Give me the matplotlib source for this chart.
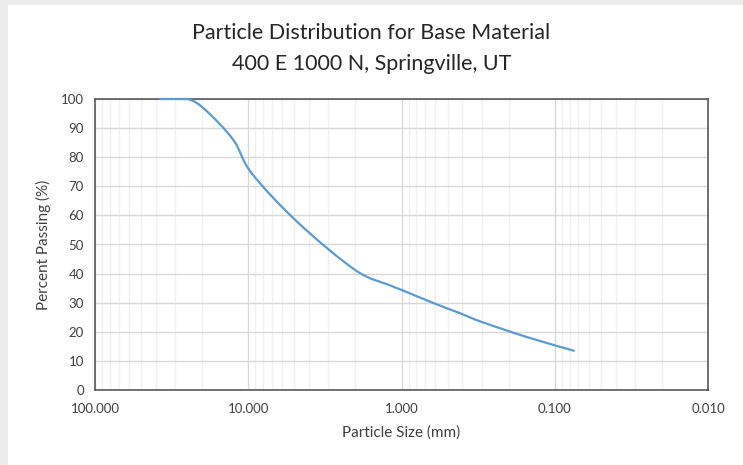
"""Grain size distribution curve for the base material sample."""

import matplotlib
import numpy as np

matplotlib.use("Agg")
import matplotlib.pyplot as plt  # noqa: E402
from matplotlib.patches import PathPatch, Rectangle  # noqa: E402
from matplotlib.path import Path  # noqa: E402
from matplotlib.ticker import FixedLocator, FormatStrFormatter, LogLocator  # noqa: E402

# sieve openings (mm) and percent passing
SIEVE_MM = [37.5, 25.0, 19.0, 12.5, 9.5, 4.75, 2.0, 1.18, 1.0, 0.6, 0.425, 0.3, 0.15, 0.075]
PASSING = [100.0, 100.0, 96.2, 85.9, 74.5, 57.6, 41.2, 35.9, 34.4, 29.6, 26.6, 23.4, 18.1, 13.5]
Y_TICKS = list(range(0, 101, 10))

FONT = ["Lato", "DejaVu Sans"]
TEXT_COLOR = "#404040"
LINE_COLOR = "#5b9bd5"


def smooth_path(xs, ys):
    """Excel-style smoothed line: cubic bezier segments built in log-x space."""
    lx = np.log10(xs)
    ys = np.asarray(ys, dtype=float)
    pts = np.column_stack([lx, ys])
    n = len(pts)
    verts = [pts[0]]
    codes = [Path.MOVETO]
    for i in range(n - 1):
        p0 = pts[max(i - 1, 0)]
        p1 = pts[i]
        p2 = pts[i + 1]
        p3 = pts[min(i + 2, n - 1)]
        c1 = p1 + (p2 - p0) / 6
        c2 = p2 - (p3 - p1) / 6
        verts += [c1, c2, p2]
        codes += [Path.CURVE4] * 3
    verts = np.array(verts)
    # keep the curve from bulging over 100 %
    verts[:, 1] = np.minimum(verts[:, 1], ys.max())
    verts[:, 0] = 10 ** verts[:, 0]
    return Path(verts, codes)


def main() -> None:
    plt.rcParams["font.family"] = FONT
    fig = plt.figure(figsize=(7.43, 4.65), dpi=100, facecolor="#ececec")
    fig.patches.append(
        Rectangle((8 / 743, 0), 1, 1 - 5 / 465, transform=fig.transFigure,
                  facecolor="white", edgecolor="none", zorder=-10)
    )
    ax = fig.add_axes([95 / 743, 1 - 390 / 465, (708 - 95) / 743, (390 - 99) / 465])

    ax.set_xscale("log")
    ax.set_xlim(100, 0.01)
    ax.set_ylim(0, 100)

    curve = PathPatch(smooth_path(SIEVE_MM, PASSING), facecolor="none", edgecolor=LINE_COLOR,
                      linewidth=1.6, capstyle="round", zorder=3, clip_on=False)
    ax.add_patch(curve)

    ax.xaxis.set_major_locator(LogLocator(base=10))
    ax.xaxis.set_minor_locator(LogLocator(base=10, subs=range(2, 10)))
    ax.xaxis.set_major_formatter(FormatStrFormatter("%.3f"))
    ax.xaxis.set_minor_formatter(plt.NullFormatter())
    ax.yaxis.set_major_locator(FixedLocator(Y_TICKS))

    ax.grid(True, which="major", color="#d9d9d9", linewidth=1.0, zorder=0)
    ax.grid(True, which="minor", axis="x", color="#f0f0f0", linewidth=1.0, zorder=0)
    ax.set_axisbelow(True)

    for spine in ax.spines.values():
        spine.set_color("#595959")
        spine.set_linewidth(1.2)
    ax.tick_params(which="both", length=0, labelsize=9.5, labelcolor=TEXT_COLOR)
    ax.tick_params(axis="x", pad=9)
    ax.tick_params(axis="y", pad=8)

    ax.set_xlabel("Particle Size (mm)", fontsize=11, color=TEXT_COLOR, labelpad=8)
    ax.set_ylabel("Percent Passing (%)", fontsize=11, color=TEXT_COLOR, labelpad=7)

    fig.text(0.5, 1 - 33 / 465, "Particle Distribution for Base Material", ha="center",
             va="center", fontsize=15.5, color="#262626")
    fig.text(0.5, 1 - 64 / 465, "400 E 1000 N, Springville, UT", ha="center",
             va="center", fontsize=15.5, color="#262626")

    fig.savefig("out.png", dpi=100, facecolor=fig.get_facecolor())
    plt.close(fig)


if __name__ == "__main__":
    main()
